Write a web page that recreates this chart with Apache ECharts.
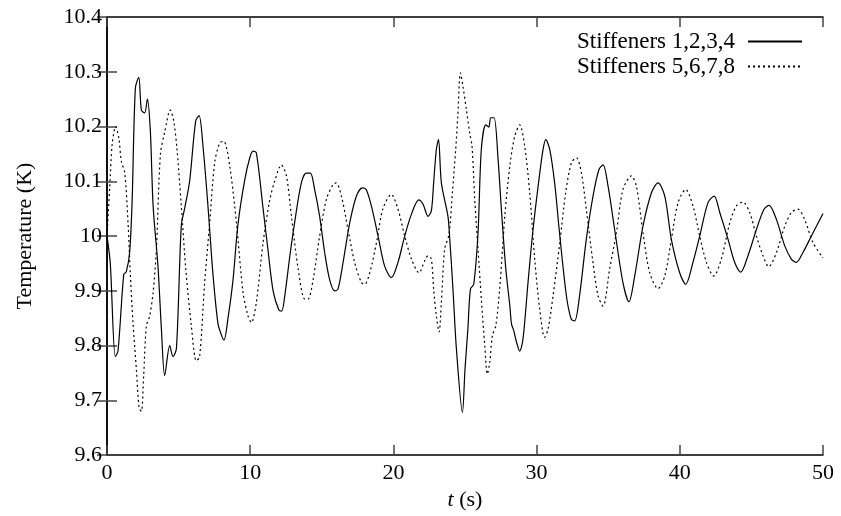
<!DOCTYPE html>
<html>
<head>
<meta charset="utf-8">
<script src="https://cdn.jsdelivr.net/npm/echarts@6/dist/echarts.min.js"></script>
<style>
  html, body { margin: 0; padding: 0; background: #fff; }
  #container { width: 841px; height: 516px; }
</style>
</head>
<body>
<div id="container"></div>
<script>
// series names
var names = ['Stiffeners 1,2,3,4', 'Stiffeners 5,6,7,8'];

// stiffeners 1-4 (solid): time (s) and temperature (K)
var tSolid = [0, 0.23, 0.58, 0.77, 1.17, 1.35, 1.58, 1.75, 1.98, 2.22, 2.4, 2.63, 2.82, 3.03, 3.22, 3.56, 3.8, 4.03, 4.38, 4.61, 4.85,
  5.19, 5.42, 5.77, 6.19, 6.43, 6.7, 7.05, 7.4, 7.75, 7.98, 8.17, 8.45, 8.8, 9.14, 9.6, 9.97, 10.2, 10.43, 10.9, 11.24, 11.6, 12.0,
  12.2, 12.41, 12.77, 13.1, 13.57, 13.92, 14.2, 14.5, 14.85, 15.2, 15.55, 15.9, 16.13, 16.48, 16.95, 17.42, 17.83, 18.1, 18.46, 18.93,
  19.39, 19.86, 20.32, 20.79, 21.26, 21.77, 22.07, 22.42, 22.65, 22.81, 23.0, 23.15, 23.35, 23.81, 23.93, 24.16, 24.4, 24.82, 25.0,
  25.2, 25.38, 25.61, 25.91, 26.14, 26.45, 26.66, 26.8, 27.03, 27.31, 27.54, 27.85, 28.13, 28.25, 28.41, 28.6, 28.82, 29.05, 29.4,
  29.75, 30.22, 30.45, 30.64, 30.92, 31.26, 31.6, 32.08, 32.42, 32.66, 33.0, 33.47, 33.94, 34.35, 34.64, 34.99, 35.45, 36.03, 36.45,
  36.85, 37.43, 38.02, 38.48, 38.95, 39.41, 39.99, 40.41, 40.92, 41.39, 41.97, 42.4, 42.79, 43.37, 43.83, 44.25, 44.76, 45.35, 45.88,
  46.23, 46.75, 47.33, 47.79, 48.14, 48.6, 49.19, 50];
var vSolid = [10.0, 9.95, 9.78, 9.79, 9.93, 9.935, 9.97, 10.06, 10.27, 10.29, 10.23, 10.225, 10.25, 10.19, 10.055, 9.945, 9.83, 9.745, 9.8, 9.78, 9.795,
  10.02, 10.05, 10.1, 10.21, 10.22, 10.165, 10.055, 9.93, 9.84, 9.82, 9.81, 9.85, 9.92, 10.02, 10.1, 10.143, 10.155, 10.152, 10.05, 9.975, 9.9, 9.865,
  9.863, 9.89, 9.964, 10.024, 10.097, 10.115, 10.115, 10.085, 10.036, 9.97, 9.92, 9.9, 9.903, 9.951, 10.024, 10.073, 10.088, 10.085, 10.055, 10.0,
  9.945, 9.924, 9.952, 10.0, 10.04, 10.066, 10.058, 10.036, 10.046, 10.097, 10.158, 10.176, 10.097, 10.036, 9.997, 9.903, 9.794, 9.678, 9.757,
  9.83, 9.903, 9.912, 10.006, 10.158, 10.203, 10.199, 10.216, 10.216, 10.14, 10.049, 9.94, 9.873, 9.839, 9.827, 9.806, 9.79, 9.812, 9.915,
  10.012, 10.115, 10.158, 10.176, 10.158, 10.097, 10.006, 9.891, 9.848, 9.845, 9.891, 9.994, 10.073, 10.121, 10.13, 10.091, 10.012, 9.915, 9.88,
  9.927, 10.018, 10.079, 10.097, 10.073, 9.994, 9.933, 9.912, 9.952, 10.0, 10.061, 10.073, 10.043, 9.994, 9.952, 9.934, 9.964, 10.012, 10.049,
  10.056, 10.03, 9.982, 9.958, 9.952, 9.97, 10.0, 10.041];

// stiffeners 5-8 (dotted)
var tDotted = [0, 0.19, 0.37, 0.61, 0.82, 1.0, 1.24, 1.47, 1.63, 1.82, 2.05, 2.24, 2.4, 2.56, 2.75, 2.98, 3.22, 3.45, 3.73, 4.03, 4.42,
  4.66, 4.89, 5.19, 5.5, 5.89, 6.24, 6.47, 6.82, 7.17, 7.52, 7.87, 8.15, 8.57, 9.04, 9.5, 9.85, 10.08, 10.43, 10.9, 11.36, 11.71, 12.18,
  12.53, 12.88, 13.35, 13.81, 14.04, 14.39, 14.85, 15.32, 15.79, 16.0, 16.37, 16.83, 17.3, 17.77, 18.0, 18.35, 18.82, 19.27, 19.86,
  20.32, 20.79, 21.26, 21.79, 22.19, 22.42, 22.65, 22.81, 23.0, 23.19, 23.35, 23.58, 23.88, 24.12, 24.35, 24.5, 24.68, 24.86, 25.1,
  25.33, 25.49, 25.68, 25.91, 26.14, 26.38, 26.56, 26.73, 26.91, 27.15, 27.42, 27.78, 28.13, 28.47, 28.82, 29.17, 29.52, 29.87, 30.22,
  30.56, 30.8, 31.15, 31.62, 32.03, 32.43, 32.78, 33.13, 33.47, 33.94, 34.29, 34.64, 35.1, 35.57, 36.03, 36.62, 36.97, 37.43, 37.9,
  38.48, 38.95, 39.41, 39.88, 40.41, 40.92, 41.39, 41.86, 42.37, 42.9, 43.49, 43.95, 44.41, 44.88, 45.35, 45.81, 46.21, 46.75, 47.33,
  47.79, 48.25, 48.72, 49.3, 50];
var vDotted = [10.0, 10.09, 10.17, 10.2, 10.18, 10.137, 10.115, 10.024, 9.93, 9.84, 9.757, 9.687, 9.68, 9.745, 9.836, 9.854, 9.897, 9.976, 10.149, 10.19, 10.23,
  10.21, 10.158, 10.055, 9.94, 9.836, 9.772, 9.78, 9.915, 10.024, 10.134, 10.17, 10.173, 10.128, 10.024, 9.897, 9.854, 9.842, 9.879, 9.988, 10.065, 10.1, 10.13,
  10.11, 10.036, 9.94, 9.885, 9.885, 9.92, 10.0, 10.067, 10.094, 10.097, 10.073, 10.012, 9.951, 9.915, 9.912, 9.933, 9.988, 10.05, 10.076,
  10.049, 10.0, 9.958, 9.933, 9.955, 9.964, 9.958, 9.903, 9.854, 9.825, 9.879, 9.976, 10.003, 10.079, 10.158, 10.22, 10.298, 10.273, 10.23,
  10.188, 10.164, 10.067, 9.976, 9.885, 9.8, 9.748, 9.769, 9.818, 9.836, 9.903, 10.036, 10.128, 10.182, 10.203, 10.164, 10.079, 9.957, 9.866,
  9.815, 9.83, 9.891, 9.988, 10.079, 10.134, 10.143, 10.115, 10.049, 9.951, 9.891, 9.872, 9.94, 10.006, 10.085, 10.11, 10.091, 10.006, 9.933,
  9.904, 9.927, 9.994, 10.061, 10.085, 10.055, 10.0, 9.952, 9.927, 9.958, 10.024, 10.055, 10.062, 10.043, 10.0, 9.964, 9.944, 9.97, 10.018,
  10.043, 10.049, 10.03, 9.988, 9.96];

function pairs(t, v) {
  var out = [];
  for (var i = 0; i < t.length; i++) out.push([t[i], v[i]]);
  return out;
}

var font = "'Liberation Serif', 'DejaVu Serif', serif";

var frameLine = { show: true, lineStyle: { color: '#000', width: 1.5 } };
var tick = { show: true, inside: true, length: 10, lineStyle: { color: '#444', width: 1.5 } };

var myChart = echarts.init(document.getElementById('container'));
myChart.setOption({
  animation: false,
  backgroundColor: '#fff',
  grid: { left: 107, right: 18, top: 17, bottom: 60, containLabel: false },
  legend: {
    data: names,
    orient: 'vertical',
    align: 'right',
    right: 33,
    top: 25,
    itemWidth: 54,
    itemHeight: 12,
    itemGap: 2,
    itemStyle: { opacity: 0 },
    textStyle: { fontFamily: font, fontSize: 23, color: '#000', padding: [0, 8, 0, 0] }
  },
  xAxis: [{
    type: 'value', min: 0, max: 50, interval: 10, position: 'bottom',
    axisLine: frameLine, axisTick: tick, splitLine: { show: false },
    axisLabel: { fontFamily: font, fontSize: 22, color: '#000', margin: 7 },
    name: '{i|t} (s)', nameLocation: 'middle', nameGap: 30,
    nameTextStyle: { fontFamily: font, fontSize: 22, color: '#000',
      rich: { i: { fontFamily: font, fontSize: 22, fontStyle: 'italic', color: '#000' } } }
  }, {
    type: 'value', min: 0, max: 50, interval: 10, position: 'top',
    axisLine: frameLine, axisTick: tick, splitLine: { show: false }, axisLabel: { show: false }
  }],
  yAxis: [{
    type: 'value', min: 9.6, max: 10.4, interval: 0.1, position: 'left',
    axisLine: frameLine, axisTick: tick, splitLine: { show: false },
    axisLabel: { fontFamily: font, fontSize: 22, color: '#000', margin: 5,
      formatter: function (v) { return String(+v.toFixed(1)); } },
    name: 'Temperature (K)', nameLocation: 'middle', nameGap: 71, nameRotate: 90,
    nameTextStyle: { fontFamily: font, fontSize: 22, color: '#000' }
  }, {
    type: 'value', min: 9.6, max: 10.4, interval: 0.1, position: 'right',
    axisLine: frameLine, axisTick: tick, splitLine: { show: false }, axisLabel: { show: false }
  }],
  series: [{
    name: names[0], type: 'line', data: pairs(tSolid, vSolid),
    symbol: 'none', smooth: 0.3,
    lineStyle: { color: '#000', width: 1.2, type: 'solid' },
    itemStyle: { color: '#000' }
  }, {
    name: names[1], type: 'line', data: pairs(tDotted, vDotted),
    symbol: 'none', smooth: 0.3,
    lineStyle: { color: '#000', width: 1.2, type: [2, 3] },
    itemStyle: { color: '#000' }
  }]
});
</script>
</body>
</html>
